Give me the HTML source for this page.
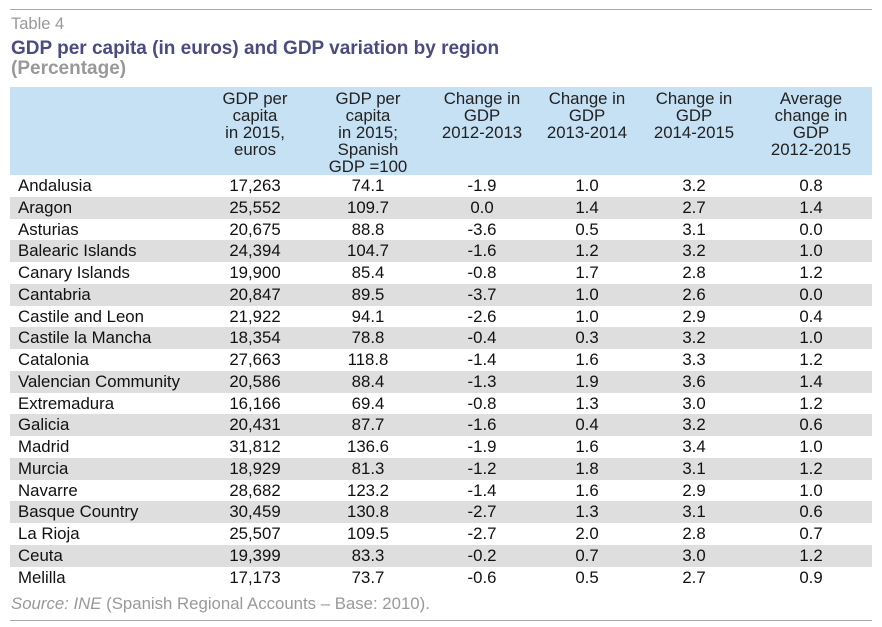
<!DOCTYPE html>
<html><head><style>
body{margin:0;width:882px;height:627px;background:#fff;font-family:"Liberation Sans",Arial,sans-serif;position:relative;overflow:hidden}
.a{position:absolute}
.hl{position:absolute;left:10px;width:862px;height:1px;background:#aaa}
.hd{position:absolute;top:90px;font-size:16.8px;line-height:17px;color:#222;text-align:center;width:140px}
.row{position:absolute;left:10px;width:862px;height:21.75px;font-size:16.8px;color:#111;line-height:21.75px}
.row span{position:absolute;text-align:center;width:120px}
.g{background:#dedede}
</style></head><body>
<div class="hl" style="top:9px"></div>
<div class="a" style="left:11px;top:15px;font-size:16.5px;color:#999">Table 4</div>
<div class="a" style="left:11px;top:38px;font-size:19px;font-weight:bold;color:#4b4b82">GDP per capita (in euros) and GDP variation by region</div>
<div class="a" style="left:11px;top:58px;font-size:19px;font-weight:bold;color:#999">(Percentage)</div>
<div class="a" style="left:10px;top:87px;width:862px;height:88px;background:#c6e0f4"></div>
<div class="hd" style="left:185px">GDP per<br>capita<br>in 2015,<br>euros</div>
<div class="hd" style="left:298px">GDP per<br>capita<br>in 2015;<br>Spanish<br>GDP =100</div>
<div class="hd" style="left:412px">Change in<br>GDP<br>2012-2013</div>
<div class="hd" style="left:517px">Change in<br>GDP<br>2013-2014</div>
<div class="hd" style="left:624px">Change in<br>GDP<br>2014-2015</div>
<div class="hd" style="left:741px">Average<br>change in<br>GDP<br>2012-2015</div>
<div id="rows"></div>
<div class="a" style="left:11px;top:594px;font-size:16.8px;color:#999"><i>Source: INE</i> (Spanish Regional Accounts – Base: 2010).</div>
<div class="hl" style="top:620px"></div>
<script>
var d=[["Andalusia","17,263","74.1","-1.9","1.0","3.2","0.8"],["Aragon","25,552","109.7","0.0","1.4","2.7","1.4"],["Asturias","20,675","88.8","-3.6","0.5","3.1","0.0"],["Balearic Islands","24,394","104.7","-1.6","1.2","3.2","1.0"],["Canary Islands","19,900","85.4","-0.8","1.7","2.8","1.2"],["Cantabria","20,847","89.5","-3.7","1.0","2.6","0.0"],["Castile and Leon","21,922","94.1","-2.6","1.0","2.9","0.4"],["Castile la Mancha","18,354","78.8","-0.4","0.3","3.2","1.0"],["Catalonia","27,663","118.8","-1.4","1.6","3.3","1.2"],["Valencian Community","20,586","88.4","-1.3","1.9","3.6","1.4"],["Extremadura","16,166","69.4","-0.8","1.3","3.0","1.2"],["Galicia","20,431","87.7","-1.6","0.4","3.2","0.6"],["Madrid","31,812","136.6","-1.9","1.6","3.4","1.0"],["Murcia","18,929","81.3","-1.2","1.8","3.1","1.2"],["Navarre","28,682","123.2","-1.4","1.6","2.9","1.0"],["Basque Country","30,459","130.8","-2.7","1.3","3.1","0.6"],["La Rioja","25,507","109.5","-2.7","2.0","2.8","0.7"],["Ceuta","19,399","83.3","-0.2","0.7","3.0","1.2"],["Melilla","17,173","73.7","-0.6","0.5","2.7","0.9"]];
var c=[255,368,482,587,694,811],h="";
d.forEach(function(r,i){h+='<div class="row'+(i%2?' g':'')+'" style="top:'+(175+i*21.75)+'px"><span style="left:8px;text-align:left;width:220px">'+r[0]+'</span>';
for(var j=1;j<7;j++)h+='<span style="left:'+(c[j-1]-70)+'px">'+r[j]+'</span>';h+='</div>';});
document.getElementById("rows").innerHTML=h;
</script>
</body></html>
